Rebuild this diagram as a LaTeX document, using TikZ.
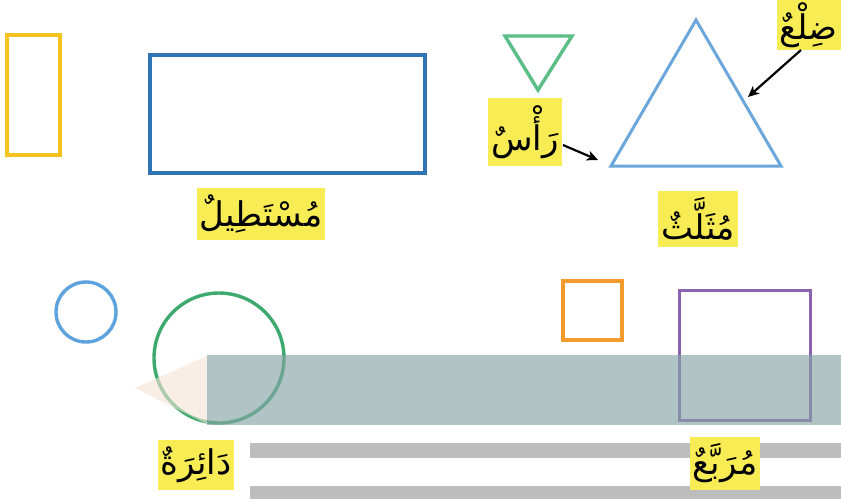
\documentclass[tikz,border=0pt]{standalone}
\usepackage{fontspec}
\newfontfamily\arabicfont[Script=Arabic]{DejaVu Sans}
\TeXXeTstate=1
\usetikzlibrary{arrows.meta}
\definecolor{hl}{HTML}{F8EC55}
\definecolor{cyel}{HTML}{F5C320}
\definecolor{cblue}{HTML}{2F74B5}
\definecolor{cgreen}{HTML}{5BBE87}
\definecolor{ctri}{HTML}{6BA7DA}
\definecolor{ccirc}{HTML}{5DA3DD}
\definecolor{cgcirc}{HTML}{3EA96E}
\definecolor{corange}{HTML}{F39A2D}
\definecolor{cpurple}{HTML}{8A63B0}
\definecolor{cband}{HTML}{86A4A6}
\definecolor{cgray}{HTML}{BDBDBD}
\definecolor{cpeach}{HTML}{F6E3D6}
\tikzset{
  lbl/.style={fill=hl, inner xsep=3pt, inner ysep=7pt, font=\arabicfont\fontsize{34}{36}\selectfont, text=black},
  shp/.style={line width=3.4pt},
  arr/.style={-{Stealth[length=11pt,width=10pt,inset=3pt]}, line width=2.2pt, black},
}
\begin{document}
\begin{tikzpicture}[x=1pt,y=-1pt]
\useasboundingbox (0,0) rectangle (841,499);
\fill[white] (0,0) rectangle (841,499);
% shapes
\draw[shp, cyel] (7,35) rectangle (60,155);
\draw[shp, cblue] (150,55) rectangle (425,173);
\draw[shp, cgreen, line join=miter] (505,36) -- (572,36) -- (538,90) -- cycle;
\draw[shp, ctri, line width=3pt] (696,20) -- (781,166) -- (611,166) -- cycle;
\coordinate (side) at (748,97);
\coordinate (vert) at (598,160);
\draw[shp, ccirc] (86,312) circle (30);
\draw[shp, cgcirc] (219,358) circle (65);
\draw[shp, corange] (563,281) rectangle (622,340);
\draw[shp, cpurple, line width=3pt] (679,290) rectangle (810,420);
% band and pencil tip
\fill[cpeach, opacity=0.6] (207,356) -- (207,424) -- (135,388) -- cycle;
\fill[cband, opacity=0.65] (207,355) rectangle (841,425);
\fill[cgray] (250,443) rectangle (841,458);
\fill[cgray] (250,486) rectangle (841,499);
% labels
\node[lbl, anchor=north east, inner ysep=2pt] (dil) at (841,0) {\beginR ضِلْعٌ\endR};
\node[lbl] (ras) at (525,132) {\beginR رَأْسٌ\endR};
\node[lbl] (mus) at (261,214) {\beginR مُسْتَطِيلٌ\endR};
\node[lbl] (mut) at (698,219) {\beginR مُثَلَّثٌ\endR};
\node[lbl] (dai) at (196,465) {\beginR دَائِرَةٌ\endR};
\node[lbl] (mur) at (725,463) {\beginR مُرَبَّعٌ\endR};
% arrows
\coordinate (d0) at (801,50);
\coordinate (r0) at (563,145);
\draw[arr] (d0) -- (side);
\draw[arr] (r0) -- (vert);
\end{tikzpicture}
\end{document}
